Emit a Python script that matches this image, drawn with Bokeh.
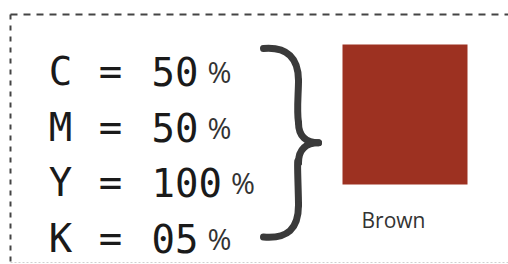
from bokeh.plotting import figure
from bokeh.models import Range1d, ColumnDataSource
from bokeh.core.properties import value
from bokeh.embed import file_html
from bokeh.resources import INLINE

# ---- data ----
channels = ["C", "M", "Y", "K"]
percents = ["50", "50", "100", "05"]
swatch_name = "Brown"
swatch_color = "#9D3121"

# ---- layout (image pixel coordinates) ----
row_base0 = 71.0
row_step = 55.5
letter_x = 60.0
eq_x = 110.0
val_x = 151.0
digit_adv = 23.5
pct_gap = 9.0
mono_size = 39
pct_size = 29

W, H = 508, 264
p = figure(width=W, height=H, output_backend="svg", toolbar_location=None,
           x_range=Range1d(0, W), y_range=Range1d(H, 0),
           x_axis_location=None, y_axis_location=None, min_border=0)
p.grid.visible = False
p.outline_line_color = None
p.background_fill_color = "white"
p.border_fill_color = "white"

# dashed frame (top and left edges visible, faint bottom edge)
p.line([10, W], [14, 14], line_color="#444444", line_width=2, line_dash="7 6")
p.line([10, 10], [14, H], line_color="#444444", line_width=2, line_dash="5 6")
p.line([10, W], [262, 262], line_color="#d0d0d0", line_width=1, line_dash="2 2")

baselines = [row_base0 + i * row_step for i in range(len(channels))]
src = ColumnDataSource(dict(
    letter=channels,
    eq=["="] * len(channels),
    val=percents,
    pct=["%"] * len(channels),
    y=baselines,
    lx=[letter_x] * len(channels),
    ex=[eq_x] * len(channels),
    vx=[val_x] * len(channels),
    px=[val_x + len(v) * digit_adv + pct_gap for v in percents],
))
common = dict(source=src, y="y", text_baseline="alphabetic")
p.text(x="lx", text="letter", text_align="center", text_font=value("DejaVu Sans Mono"),
       text_font_size=f"{mono_size}px", text_color="#1a1a1a", **common)
p.text(x="ex", text="eq", text_align="center", text_font=value("DejaVu Sans Mono"),
       text_font_size=f"{mono_size}px", text_color="#1a1a1a", **common)
p.text(x="vx", text="val", text_align="left", text_font=value("DejaVu Sans Mono"),
       text_font_size=f"{mono_size}px", text_color="#1a1a1a", **common)
p.text(x="px", text="pct", text_align="left", text_font=value("Open Sans"),
       text_font_size=f"{pct_size}px", text_color="#333333", **common)

# curly brace spanning the rows
top = baselines[0] - 23
bot = baselines[-1] - 1
mid = (top + bot) / 2
xl, xs, xt = 263.0, 298.0, 318.0
x0 = [xl, xs, xs, xt, xs, xs]
y0 = [top, top + 32, mid - 20, mid, mid + 20, bot - 32]
x1 = [xs, xs, xt, xs, xs, xl]
y1 = [top + 32, mid - 20, mid, mid + 20, bot - 32, bot]
cx0 = [xl + 24, xs, xs, xt - 12, xs - 2, xs]
cy0 = [top - 2, top + 45, mid - 6, mid, mid + 8, bot - 8]
cx1 = [xs, xs - 2, xt - 12, xs, xs, xl + 24]
cy1 = [top + 10, mid - 32, mid, mid + 6, bot - 45, bot + 2]
p.bezier(x0=x0, y0=y0, x1=x1, y1=y1, cx0=cx0, cy0=cy0, cx1=cx1, cy1=cy1,
         line_color="#3a3a3a", line_width=7, line_cap="round")

# colour swatch
p.quad(left=[342], right=[467], top=[44], bottom=[184],
       fill_color=swatch_color, line_color=None)
p.text(x=[361], y=[219.5], text=[swatch_name], text_align="left",
       text_baseline="alphabetic", text_font=value("Open Sans"),
       text_font_size="21px", text_color="#333333")

open("out.html", "w").write(file_html(p, INLINE))
